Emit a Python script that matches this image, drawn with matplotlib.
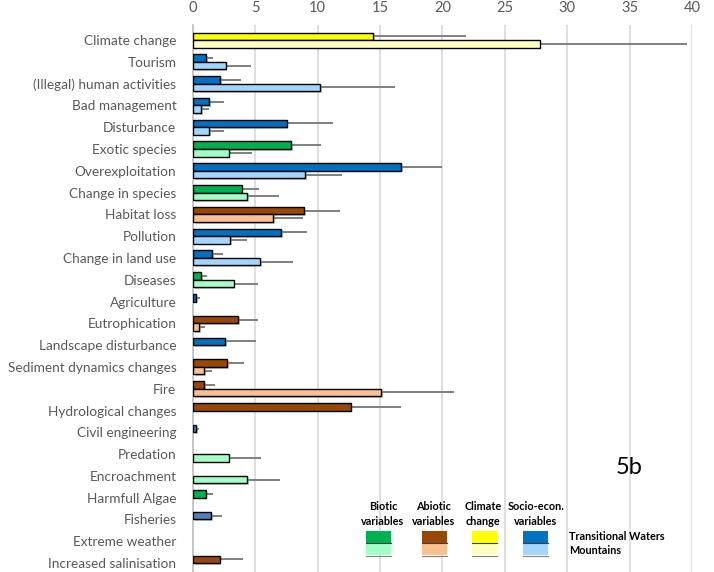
import matplotlib
matplotlib.use("Agg")
import matplotlib.pyplot as plt
import matplotlib.patheffects as pe
from matplotlib.patches import Rectangle
import numpy as np

plt.rcParams["font.family"] = ["Lato", "DejaVu Sans"]

nan = np.nan

categories = [
    "Climate change", "Tourism", "(Illegal) human activities", "Bad management",
    "Disturbance", "Exotic species", "Overexploitation", "Change in species",
    "Habitat loss", "Pollution", "Change in land use", "Diseases", "Agriculture",
    "Eutrophication", "Landscape disturbance", "Sediment dynamics changes", "Fire",
    "Hydrological changes", "Civil engineering", "Predation", "Encroachment",
    "Harmfull Algae", "Fisheries", "Extreme weather", "Increased salinisation",
]
# variable group of each threat
groups = [
    "clim", "socio", "socio", "socio", "socio", "bio", "socio", "bio",
    "abio", "socio", "socio", "bio", "socio", "abio", "socio", "abio", "abio",
    "abio", "socio2", "bio", "bio", "bio", "socio2", "clim", "abio",
]
tw_vals = [14.46, 1.07, 2.17, 1.31, 7.51, 7.89, 16.7, 3.9, 8.93, 7.08, 1.55, 0.67, 0.27,
           3.61, 2.59, 2.75, 0.91, 12.65, 0.27, nan, nan, 1.02, 1.47, nan, 2.14]
tw_err = [7.4, 0.5, 1.65, 1.2, 3.7, 2.4, 3.3, 1.37, 2.83, 2.06, 0.86, 0.48, 0.26,
          1.58, 2.44, 1.34, 0.85, 4.05, 0.2, nan, nan, 0.61, 0.83, nan, 1.84]
mt_vals = [27.8, 2.62, 10.2, 0.67, 1.31, 2.86, 8.98, 4.36, 6.44, 2.99, 5.4, 3.26, nan,
           0.51, nan, 0.88, 15.1, nan, nan, 2.86, 4.33, nan, nan, nan, nan]
mt_err = [11.8, 2.0, 6.0, 0.58, 1.2, 1.85, 3.0, 2.5, 2.36, 1.37, 2.65, 1.98, nan,
          0.43, nan, 0.62, 5.8, nan, nan, 2.57, 2.62, nan, nan, nan, nan]

tw_colors = {"bio": "#00b050", "abio": "#974706", "clim": "#ffff00",
             "socio": "#0070c0", "socio2": "#4f81bd"}
mt_colors = {"bio": "#a3ffc8", "abio": "#fac090", "clim": "#ffffc0",
             "socio": "#a3d5ff", "socio2": "#a3d5ff"}

W, H = 714, 572
fig = plt.figure(figsize=(W / 100, H / 100), dpi=100)
ax = fig.add_axes([193 / W, 0, (692 - 193) / W, (H - 25) / H])

y = np.arange(len(categories))
bh = 0.345
shadow = [pe.SimplePatchShadow(offset=(1.2, -1.2), shadow_rgbFace="#a0a0a0", alpha=0.6),
          pe.Normal()]

for vals, errs, cmap, off in [(tw_vals, tw_err, tw_colors, -bh / 2),
                              (mt_vals, mt_err, mt_colors, bh / 2)]:
    vals = np.array(vals)
    errs = np.array(errs)
    cols = [cmap[g] for g in groups]
    ok = ~np.isnan(vals)
    bars = ax.barh(y[ok] + off, vals[ok], height=bh, color=np.array(cols)[ok],
                   edgecolor="black", linewidth=1.0, zorder=3)
    for b in bars:
        b.set_path_effects(shadow)
    ax.errorbar(vals[ok], y[ok] + off, xerr=[np.zeros(ok.sum()), errs[ok]],
                fmt="none", ecolor="#7f7f7f", elinewidth=1.4, capsize=0, zorder=2)

ax.set_xlim(0, 40)
ax.set_ylim(len(categories) - 1 + 0.41, -0.69)
ax.set_xticks(np.arange(0, 41, 5))
ax.set_yticks(y)
ax.set_yticklabels(categories)
ax.xaxis.tick_top()
ax.tick_params(axis="x", length=0, pad=7, labelsize=10.5, labelcolor="#595959")
ax.tick_params(axis="y", length=0, pad=12, labelsize=9.8, labelcolor="#595959")
ax.grid(axis="x", color="#d9d9d9", linewidth=1.2, zorder=0)
ax.set_axisbelow(True)
for s in ["top", "right", "bottom"]:
    ax.spines[s].set_visible(False)
ax.spines["left"].set_color("#bfbfbf")
ax.spines["left"].set_linewidth(1.2)

# hand-made legend
def fx(px):
    return px / W


def fy(py):
    return 1 - py / H


legend_items = [("Biotic\nvariables", "bio", 366, 383),
                ("Abiotic\nvariables", "abio", 422, 434),
                ("Climate\nchange", "clim", 472, 483),
                ("Socio-econ.\nvariables", "socio", 523, 536)]
for label, g, x0, xt in legend_items:
    fig.text(fx(xt), fy(514), label, ha="center", va="center", fontsize=7.8,
             fontweight="bold", linespacing=1.35)
    fig.add_artist(Rectangle((fx(x0), fy(543)), fx(25), 12 / H, transform=fig.transFigure,
                             facecolor=tw_colors[g], edgecolor="none"))
    fig.add_artist(Rectangle((fx(x0), fy(555)), fx(25), 12 / H, transform=fig.transFigure,
                             facecolor=mt_colors[g], edgecolor="none"))
    fig.add_artist(plt.Line2D([fx(x0), fx(x0 + 25)], [fy(543), fy(543)],
                              transform=fig.transFigure, color="#404040", linewidth=0.8))
    fig.add_artist(plt.Line2D([fx(x0), fx(x0 + 25)], [fy(555.5), fy(555.5)],
                              transform=fig.transFigure, color="#7f7f7f", linewidth=0.8))
fig.text(fx(569), fy(537), "Transitional Waters", ha="left", va="center",
         fontsize=7.8, fontweight="bold")
fig.text(fx(569), fy(551), "Mountains", ha="left", va="center",
         fontsize=7.8, fontweight="bold")
fig.text(fx(629), fy(467), "5b", ha="center", va="center", fontsize=17)

fig.savefig("out.png", dpi=100)
